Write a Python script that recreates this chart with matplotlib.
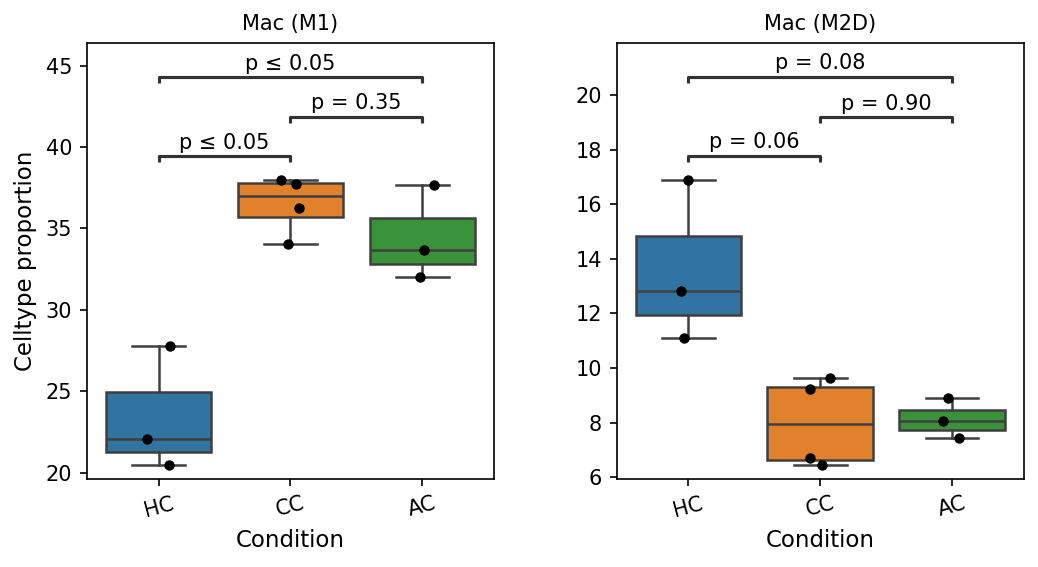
import numpy as np
import matplotlib
matplotlib.use("Agg")
import matplotlib.pyplot as plt

conditions = ["HC", "CC", "AC"]
colors = ["#3274a1", "#e1812c", "#3a923a"]

# Mac (M1) celltype proportions per condition
m1_hc = [27.78, 22.07, 20.45]
m1_cc = [37.98, 37.71, 36.24, 34.05]
m1_ac = [37.65, 33.66, 32.00]
m1_jitter = [[0.083, -0.089, 0.078], [-0.071, 0.045, 0.065, -0.018], [0.088, 0.012, -0.018]]

# Mac (M2D)
m2_hc = [16.89, 12.81, 11.09]
m2_cc = [9.62, 9.22, 6.71, 6.44]
m2_ac = [8.89, 8.06, 7.43]
m2_jitter = [[0.0, -0.058, -0.035], [0.078, -0.081, -0.081, 0.017], [-0.028, -0.066, 0.055]]

# pairwise tests: (group a, group b, bracket height, label)
m1_tests = [(0, 1, 39.47, "p ≤ 0.05"), (1, 2, 41.87, "p = 0.35"), (0, 2, 44.32, "p ≤ 0.05")]
m2_tests = [(0, 1, 17.78, "p = 0.06"), (1, 2, 19.20, "p = 0.90"), (0, 2, 20.67, "p = 0.08")]

EDGE = "#3f3f3f"


def panel(ax, groups, jitter, tests, title, ylim, tip):
    bp = ax.boxplot(groups, positions=range(len(groups)), widths=0.8, patch_artist=True,
                    showfliers=False, manage_ticks=False,
                    boxprops=dict(edgecolor=EDGE, linewidth=1.2),
                    medianprops=dict(color=EDGE, linewidth=1.2),
                    whiskerprops=dict(color=EDGE, linewidth=1.2),
                    capprops=dict(color=EDGE, linewidth=1.2))
    for patch, c in zip(bp["boxes"], colors):
        patch.set_facecolor(c)
    for i, (vals, jit) in enumerate(zip(groups, jitter)):
        ax.scatter(np.array(jit) + i, vals, s=25, color="black", zorder=3, linewidths=0)
    for a, b, h, lab in tests:
        ax.plot([a, a, b, b], [h - tip, h, h, h - tip], color="#333333", lw=1.5,
                solid_capstyle="butt")
        ax.annotate(lab, xy=((a + b) / 2, h), xytext=(0, 1.5), textcoords="offset points",
                    ha="center", va="bottom", fontsize=10)
    ax.set_xlim(-0.545, 2.545)
    ax.set_ylim(*ylim)
    ax.set_xticks(range(len(conditions)))
    ax.set_xticklabels(conditions, rotation=15)
    ax.tick_params(labelsize=10)
    ax.set_xlabel("Condition", fontsize=11)
    ax.set_title(title, fontsize=10)


fig = plt.figure(figsize=(1038 / 150, 567 / 150), dpi=150)
ax1 = fig.add_axes([0.0836, 0.1557, 0.3925, 0.7685])
ax2 = fig.add_axes([0.5941, 0.1557, 0.3921, 0.7685])

panel(ax1, [m1_hc, m1_cc, m1_ac], m1_jitter, m1_tests, "Mac (M1)", (19.63, 46.39), 0.4)
ax1.set_ylabel("Celltype proportion", fontsize=11)
panel(ax2, [m2_hc, m2_cc, m2_ac], m2_jitter, m2_tests, "Mac (M2D)", (5.95, 21.90), 0.23)

fig.savefig("out.png", dpi=150)
